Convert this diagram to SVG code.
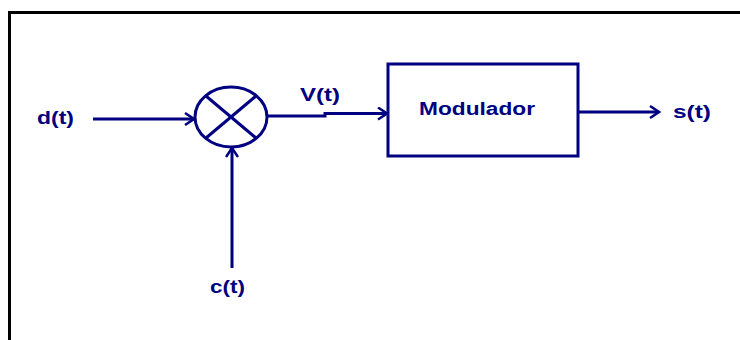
<svg xmlns="http://www.w3.org/2000/svg" width="740" height="340" viewBox="0 0 740 340">
<defs>
<style>
.ln{fill:none;stroke:#000080;stroke-width:3}
.lbl{font-family:"Liberation Sans",Arial,sans-serif;font-weight:bold;font-size:18px;fill:#000080}
</style>
<marker id="ah" viewBox="0 0 14 14" refX="12" refY="7" markerWidth="14" markerHeight="14" markerUnits="userSpaceOnUse" orient="auto">
<path d="M3,1 L12,7 L3,13" fill="none" stroke="#000080" stroke-width="2.5"/>
</marker>
</defs>
<rect width="740" height="340" fill="#fff"/>
<rect x="9.5" y="12.5" width="800" height="400" fill="none" stroke="#000" stroke-width="3"/>
<g id="mixer">
<ellipse class="ln" cx="231" cy="117" rx="36" ry="30"/>
<line class="ln" x1="206" y1="96" x2="256" y2="138"/>
<line class="ln" x1="256" y1="96" x2="206" y2="138"/>
</g>
<g id="modulador">
<rect class="ln" x="388" y="64" width="190" height="92"/>
<text class="lbl" x="419" y="115" textLength="116" lengthAdjust="spacingAndGlyphs">Modulador</text>
</g>
<g id="labels">
<text class="lbl" x="37" y="124" textLength="37" lengthAdjust="spacingAndGlyphs">d(t)</text>
<text class="lbl" x="300" y="101" textLength="40" lengthAdjust="spacingAndGlyphs">V(t)</text>
<text class="lbl" x="673" y="118" textLength="38" lengthAdjust="spacingAndGlyphs">s(t)</text>
<text class="lbl" x="210" y="293" textLength="35" lengthAdjust="spacingAndGlyphs">c(t)</text>
</g>
<g id="connectors">
<line class="ln" x1="93" y1="119" x2="194" y2="119" marker-end="url(#ah)"/>
<polyline class="ln" points="268,116 325,116 325,113.5 387,113.5" marker-end="url(#ah)"/>
<line class="ln" x1="578" y1="112" x2="659" y2="112" marker-end="url(#ah)"/>
<line class="ln" x1="232" y1="268" x2="232" y2="148" marker-end="url(#ah)"/>
</g>
</svg>
